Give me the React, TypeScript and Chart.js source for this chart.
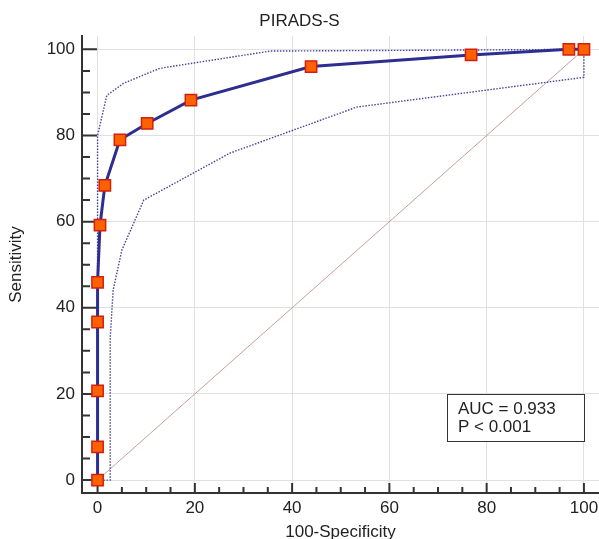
import { useEffect, useRef } from "react";
import { Chart, registerables } from "chart.js";

Chart.register(...registerables);

const FONT = "'Liberation Sans', Arial, Helvetica, sans-serif";
const TEXT = "#222222";

// ROC curve (100-Specificity, Sensitivity)
const rocX = [0, 0, 0, 0, 0, 0.5, 1.5, 4.6, 10.2, 19.2, 43.9, 76.8, 96.9, 100];
const rocY = [0, 7.7, 20.7, 36.7, 45.9, 59.2, 68.4, 79.0, 82.8, 88.2, 96.0, 98.7, 100, 100];

// Confidence bounds
const upperX = [0, 0, 1.9, 5.3, 12.8, 35.5, 100];
const upperY = [0, 80, 89.3, 92.1, 95.6, 99.6, 100];
const lowerX = [0, 2.6, 2.6, 3.2, 5.0, 9.5, 27.2, 53.3, 100, 100];
const lowerY = [0, 0, 33, 44.1, 53.4, 65.0, 75.9, 86.6, 93.5, 100];

// Reference diagonal
const diagX = [0, 100];
const diagY = [0, 100];

const majorTicks = [0, 20, 40, 60, 80, 100];
const minorTicks = [5, 10, 15, 25, 30, 35, 45, 50, 55, 65, 70, 75, 85, 90, 95];

const titleText = "PIRADS-S";
const xTitle = "100-Specificity";
const yTitle = "Sensitivity";
const statLines = ["AUC = 0.933", "P < 0.001"];

const toPts = (xs: number[], ys: number[]) => xs.map((x, i) => ({ x, y: ys[i] }));

export default function App() {
  const ref = useRef<HTMLCanvasElement>(null);

  useEffect(() => {
    const canvas = ref.current;
    if (!canvas) return;

    const decor = {
      id: "decor",
      beforeDatasetsDraw(chart: any) {
        const { ctx } = chart;
        const xs = chart.scales.x;
        const ys = chart.scales.y;
        const left = chart.chartArea.left;
        const bottom = chart.chartArea.bottom;
        ctx.save();
        ctx.strokeStyle = "#333333";
        ctx.lineWidth = 2;
        ctx.beginPath();
        majorTicks.forEach((v) => {
          const py = ys.getPixelForValue(v);
          ctx.moveTo(left, py);
          ctx.lineTo(left + 15, py);
          const px = xs.getPixelForValue(v);
          ctx.moveTo(px, bottom);
          ctx.lineTo(px, bottom - 10);
        });
        minorTicks.forEach((v) => {
          const py = ys.getPixelForValue(v);
          ctx.moveTo(left, py);
          ctx.lineTo(left + 8, py);
          const px = xs.getPixelForValue(v);
          ctx.moveTo(px, bottom);
          ctx.lineTo(px, bottom - 6);
        });
        ctx.stroke();
        ctx.restore();
      },
      afterDraw(chart: any) {
        const { ctx } = chart;
        const xs = chart.scales.x;
        const ys = chart.scales.y;
        const right = xs.getPixelForValue(100);
        const bx = right - 137;
        const by = ys.getPixelForValue(19.9);
        const bw = 137;
        const bh = 47;
        ctx.save();
        ctx.fillStyle = "#ffffff";
        ctx.fillRect(bx, by, bw, bh);
        ctx.strokeStyle = "#333333";
        ctx.lineWidth = 1;
        ctx.strokeRect(Math.round(bx) + 0.5, Math.round(by) + 0.5, bw, bh);
        ctx.fillStyle = TEXT;
        ctx.font = `17px ${FONT}`;
        ctx.textBaseline = "alphabetic";
        ctx.textAlign = "left";
        ctx.fillText(statLines[0], bx + 11, by + 20);
        ctx.fillText(statLines[1], bx + 11, by + 38);
        ctx.restore();
      },
    };

    const chart = new Chart(canvas, {
      type: "scatter",
      data: {
        datasets: [
          {
            label: "ROC",
            data: toPts(rocX, rocY),
            showLine: true,
            borderColor: "#2d2e8f",
            borderWidth: 3,
            tension: 0,
            pointStyle: "rect",
            pointRadius: 8,
            pointBackgroundColor: "#ff6000",
            pointBorderColor: "#d02010",
            pointBorderWidth: 1.5,
            order: 0,
            clip: false as any,
          },
          {
            label: "Upper",
            data: toPts(upperX, upperY),
            showLine: true,
            borderColor: "rgb(70,70,150)",
            borderWidth: 1.4,
            borderDash: [1.5, 1.5],
            pointRadius: 0,
            tension: 0,
            order: 1,
          },
          {
            label: "Lower",
            data: toPts(lowerX, lowerY),
            showLine: true,
            borderColor: "rgb(70,70,150)",
            borderWidth: 1.4,
            borderDash: [1.5, 1.5],
            pointRadius: 0,
            tension: 0,
            order: 2,
          },
          {
            label: "Diagonal",
            data: toPts(diagX, diagY),
            showLine: true,
            borderColor: "rgb(195,160,160)",
            borderWidth: 1,
            pointRadius: 0,
            tension: 0,
            order: 3,
          },
        ],
      },
      options: {
        animation: false,
        responsive: false,
        layout: { padding: 0, autoPadding: false },
        plugins: {
          legend: { display: false },
          tooltip: { enabled: false },
          title: {
            display: true,
            text: titleText,
            color: TEXT,
            font: { family: FONT, size: 17, weight: "normal" as any, lineHeight: 1.2 },
            padding: { top: 11, bottom: 4.6 },
          },
        },
        scales: {
          x: {
            type: "linear",
            min: -3.2,
            max: 103.1,
            afterFit: (s: any) => {
              s.height = 46;
              s.paddingLeft = 0;
              s.paddingRight = 0;
            },
            ticks: {
              stepSize: 20,
              includeBounds: false,
              color: TEXT,
              font: { family: FONT, size: 17 },
              padding: 5,
              maxRotation: 0,
            },
            grid: { color: "#e0e0e0", lineWidth: 1, drawTicks: false, tickLength: 0 },
            border: { display: true, color: "#333333", width: 2 },
            title: {
              display: true,
              text: xTitle,
              color: TEXT,
              font: { family: FONT, size: 17, lineHeight: 1.2 },
              padding: { top: 0, bottom: -4 },
            },
          },
          y: {
            type: "linear",
            min: -3.0,
            max: 103.1,
            afterFit: (s: any) => {
              s.width = 82;
              s.paddingTop = 0;
              s.paddingBottom = 0;
            },
            ticks: {
              stepSize: 20,
              includeBounds: false,
              color: TEXT,
              font: { family: FONT, size: 17 },
              padding: 7,
            },
            grid: { color: "#e0e0e0", lineWidth: 1, drawTicks: false, tickLength: 0 },
            border: { display: true, color: "#333333", width: 2 },
            title: {
              display: true,
              text: yTitle,
              color: TEXT,
              font: { family: FONT, size: 17, lineHeight: 1.2 },
              padding: { top: 6, bottom: 0 },
            },
          },
        },
      },
      plugins: [decor],
    });

    return () => chart.destroy();
  }, []);

  return (
    <div style={{ position: "absolute", left: 0, top: 0, width: 599, height: 539, background: "#fff" }}>
      <canvas ref={ref} width={599} height={539} style={{ display: "block" }} />
    </div>
  );
}
